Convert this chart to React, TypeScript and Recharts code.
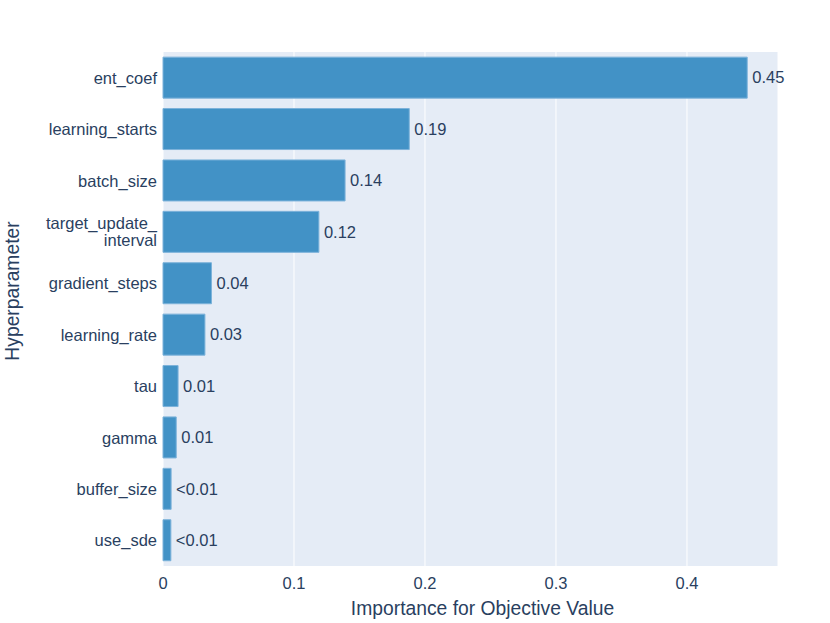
import React from "react";
import {
  Bar,
  BarChart,
  CartesianGrid,
  LabelList,
  XAxis,
  YAxis
} from "recharts";

const params = [
  "ent_coef",
  "learning_starts",
  "batch_size",
  "target_update_\ninterval",
  "gradient_steps",
  "learning_rate",
  "tau",
  "gamma",
  "buffer_size",
  "use_sde"
];

const importance = [0.446, 0.188, 0.139, 0.119, 0.037, 0.032, 0.0115, 0.0101, 0.0062, 0.006];

const xTicks = [0, 0.1, 0.2, 0.3, 0.4];

const data = params.map((name, i) => ({ name, value: importance[i] }));

const font = '"Liberation Sans", Arial, sans-serif';
const textColor = "#2a3f5f";

function label(v: number) {
  return v < 0.01 ? "<0.01" : v.toFixed(2);
}

function ParamTick(props: any) {
  const { x, y, payload } = props;
  const lines = String(payload.value).split("\n");
  const lineH = 17;
  const tx = x + 2;
  const startY = y - ((lines.length - 1) * lineH) / 2;
  return (
    <text
      x={tx}
      y={startY}
      textAnchor="end"
      fill={textColor}
      fontSize={16.5}
      fontFamily={font}
      dominantBaseline="central"
    >
      {lines.map((ln, i) => (
        <tspan key={i} x={tx} y={startY + i * lineH} dominantBaseline="central">
          {ln}
        </tspan>
      ))}
    </text>
  );
}

export default function App() {
  return (
    <div style={{ position: "absolute", left: 0, top: 0, width: 830, height: 623, background: "#fff" }}>
      <BarChart
        width={830}
        height={623}
        data={data}
        layout="vertical"
        margin={{ top: 52, right: 52, bottom: 0, left: 0 }}
        barCategoryGap="10%"
      >
        <CartesianGrid horizontal={false} stroke="#ffffff" fill="#e5ecf6" strokeWidth={1} />
        <XAxis
          type="number"
          domain={[0, 0.4695]}
          ticks={xTicks}
          tickFormatter={(v) => String(v)}
          axisLine={false}
          tickLine={false}
          height={57}
          tick={{ fill: textColor, fontSize: 16.5, fontFamily: font, dy: 3 }}
          label={{
            value: "Importance for Objective Value",
            position: "insideBottom",
            offset: 8,
            dx: 12,
            fill: textColor,
            fontSize: 19.3,
            fontFamily: font
          }}
        />
        <YAxis
          type="category"
          dataKey="name"
          width={163}
          axisLine={false}
          tickLine={false}
          interval={0}
          tick={<ParamTick />}
          label={{
            value: "Hyperparameter",
            angle: -90,
            position: "insideLeft",
            offset: 12,
            dy: -18,
            fill: textColor,
            fontSize: 19.3,
            fontFamily: font,
            style: { textAnchor: "middle" }
          }}
        />
        <Bar
          dataKey="value"
          fill="#4292c6"
          stroke="#7cb2da"
          strokeWidth={1}
          isAnimationActive={false}
        >
          <LabelList
            dataKey="value"
            position="right"
            offset={5}
            formatter={(v: any) => label(Number(v))}
            fill={textColor}
            fontSize={16.5}
            fontFamily={font}
          />
        </Bar>
      </BarChart>
    </div>
  );
}
